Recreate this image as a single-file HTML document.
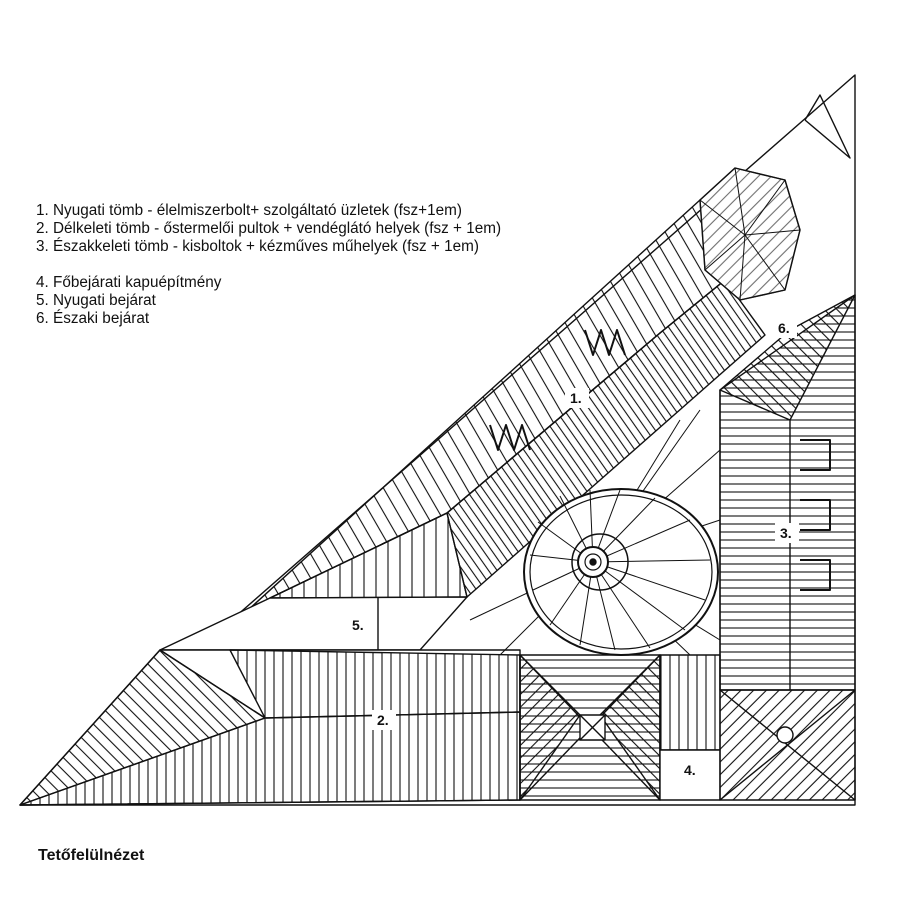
<!DOCTYPE html>
<html><head><meta charset="utf-8"><style>
html,body{margin:0;padding:0;background:#fff}
svg{display:block}
text{font-family:"Liberation Sans",sans-serif;fill:#111}
</style></head><body>
<svg width="900" height="900" viewBox="0 0 900 900" xmlns="http://www.w3.org/2000/svg">
<defs>
<pattern id="pv" width="9" height="10" patternUnits="userSpaceOnUse"><line x1="4" y1="0" x2="4" y2="10" stroke="#111" stroke-width="1.1"/></pattern>
<pattern id="pv2" width="12" height="10" patternUnits="userSpaceOnUse"><line x1="4" y1="0" x2="4" y2="10" stroke="#111" stroke-width="1.1"/></pattern>
<pattern id="ph" width="10" height="8" patternUnits="userSpaceOnUse"><line x1="0" y1="4" x2="10" y2="4" stroke="#111" stroke-width="1.1"/></pattern>
<pattern id="pd1" width="7" height="10" patternUnits="userSpaceOnUse" patternTransform="rotate(-35)"><line x1="3" y1="0" x2="3" y2="10" stroke="#111" stroke-width="1.1"/></pattern>
<pattern id="pd1b" width="12" height="10" patternUnits="userSpaceOnUse" patternTransform="rotate(-30)"><line x1="4" y1="0" x2="4" y2="10" stroke="#111" stroke-width="1.1"/></pattern>
<pattern id="pd2" width="9" height="10" patternUnits="userSpaceOnUse" patternTransform="rotate(45)"><line x1="4" y1="0" x2="4" y2="10" stroke="#111" stroke-width="1.1"/></pattern>
<pattern id="pd3" width="9" height="10" patternUnits="userSpaceOnUse" patternTransform="rotate(-45)"><line x1="4" y1="0" x2="4" y2="10" stroke="#111" stroke-width="1.1"/></pattern>
</defs>
<g fill="none" stroke="#111" stroke-width="1.4" stroke-linejoin="round">
<polyline points="20,805 855,75 855,805 20,805"/>
<path d="M805,120 L820,95 L850,158 L805,120" />
<polygon points="215,640 700,200 725,280 660,333 447,513 270,598" fill="url(#pd1b)"/>
<polygon points="447,513 660,333 725,280 765,335 467,597" fill="url(#pd1)"/>
<polygon points="270,598 447,513 467,597" fill="url(#pv2)"/>
<polyline points="270,598 447,513 660,333 725,280"/>
<polygon points="700,200 735,168 785,180 800,230 785,290 740,300 705,270" fill="#fff"/>
<polygon points="700,200 735,168 785,180 800,230 785,290 740,300 705,270" fill="url(#pd2)" opacity="0.6"/>
<g stroke-width="1">
<line x1="745" y1="235" x2="700" y2="200"/><line x1="745" y1="235" x2="735" y2="168"/><line x1="745" y1="235" x2="785" y2="180"/><line x1="745" y1="235" x2="800" y2="230"/><line x1="745" y1="235" x2="785" y2="290"/><line x1="745" y1="235" x2="740" y2="300"/><line x1="745" y1="235" x2="705" y2="270"/>
</g>
<polygon points="270,598 467,597 420,650 160,650" fill="#fff"/>
<line x1="378" y1="598" x2="378" y2="650"/>
<polygon points="160,650 520,650 520,800 20,805" fill="#fff"/>
<polygon points="160,650 265,718 20,805" fill="url(#pd3)"/>
<polygon points="265,718 520,712 520,800 20,805" fill="url(#pv)"/>
<polygon points="230,650 520,655 520,712 265,718" fill="url(#pv)"/>
<line x1="160" y1="650" x2="265" y2="718"/>
<polygon points="720,390 855,295 855,690 720,690" fill="url(#ph)"/>
<polygon points="720,390 790,330 855,295 790,420" fill="url(#pd3)"/>
<line x1="720" y1="390" x2="720" y2="690"/>
<line x1="790" y1="420" x2="790" y2="690"/>
<g stroke-width="1">
<line x1="593" y1="562" x2="700" y2="410"/><line x1="593" y1="562" x2="720" y2="450"/><line x1="593" y1="562" x2="720" y2="520"/><line x1="593" y1="562" x2="720" y2="640"/><line x1="593" y1="562" x2="470" y2="620"/><line x1="593" y1="562" x2="500" y2="655"/><line x1="593" y1="562" x2="690" y2="655"/><line x1="593" y1="562" x2="680" y2="420"/>
</g>
<ellipse cx="621" cy="572" rx="97" ry="83" stroke-width="2" fill="#fff"/>
<ellipse cx="621" cy="572" rx="91" ry="77" stroke-width="1.2"/>
<g stroke-width="1">
<line x1="593" y1="562" x2="560" y2="496"/><line x1="593" y1="562" x2="590" y2="490"/><line x1="593" y1="562" x2="620" y2="490"/><line x1="593" y1="562" x2="655" y2="498"/><line x1="593" y1="562" x2="690" y2="520"/><line x1="593" y1="562" x2="710" y2="560"/><line x1="593" y1="562" x2="705" y2="600"/><line x1="593" y1="562" x2="685" y2="630"/><line x1="593" y1="562" x2="650" y2="648"/><line x1="593" y1="562" x2="615" y2="650"/><line x1="593" y1="562" x2="580" y2="645"/><line x1="593" y1="562" x2="550" y2="625"/><line x1="593" y1="562" x2="533" y2="590"/><line x1="593" y1="562" x2="530" y2="555"/><line x1="593" y1="562" x2="538" y2="522"/>
</g>
<circle cx="600" cy="562" r="28" stroke-width="1.5" fill="none"/>
<circle cx="593" cy="562" r="15" stroke-width="2" fill="#fff"/>
<circle cx="593" cy="562" r="8" stroke-width="1.2" fill="#fff"/>
<circle cx="593" cy="562" r="3" fill="#111"/>
<rect x="520" y="655" width="140" height="145" fill="url(#ph)"/>
<polygon points="520,655 580,715 520,800" fill="url(#pd2)"/>
<polygon points="660,655 600,715 660,800" fill="url(#pd3)"/>
<line x1="520" y1="655" x2="660" y2="800"/><line x1="660" y1="655" x2="520" y2="800"/>
<rect x="580" y="715" width="25" height="25" fill="#fff"/>
<line x1="580" y1="715" x2="605" y2="740"/><line x1="605" y1="715" x2="580" y2="740"/>
<rect x="660" y="655" width="60" height="95" fill="url(#pv)"/>
<rect x="660" y="750" width="60" height="50" fill="#fff"/>
<rect x="720" y="690" width="135" height="110" fill="url(#pd2)"/>
<line x1="720" y1="690" x2="855" y2="800"/><line x1="855" y1="690" x2="720" y2="800"/>
<circle cx="785" cy="735" r="8" fill="#fff"/>
<path d="M585,330 l8,25 l8,-25 l8,25 l8,-25 l8,25" stroke-width="2"/>
<path d="M490,425 l8,25 l8,-25 l8,25 l8,-25 l8,25" stroke-width="2"/>
<path d="M800,440 h30 v30 h-30 M800,500 h30 v30 h-30 M800,560 h30 v30 h-30" stroke-width="2"/>
</g>
<g font-size="14">
<rect x="565" y="388" width="24" height="20" fill="#fff"/><text x="570" y="403" font-weight="bold">1.</text>
<rect x="372" y="710" width="24" height="20" fill="#fff"/><text x="377" y="725" font-weight="bold">2.</text>
<rect x="775" y="523" width="24" height="20" fill="#fff"/><text x="780" y="538" font-weight="bold">3.</text>
<text x="684" y="775" font-weight="bold">4.</text>
<text x="352" y="630" font-weight="bold">5.</text>
<rect x="773" y="318" width="24" height="20" fill="#fff"/><text x="778" y="333" font-weight="bold">6.</text>
</g>
<g font-size="15.3">
<text x="36" y="215">1. Nyugati tömb - élelmiszerbolt+ szolgáltató üzletek (fsz+1em)</text>
<text x="36" y="233">2. Délkeleti tömb - őstermelői pultok + vendéglátó helyek (fsz + 1em)</text>
<text x="36" y="251">3. Északkeleti tömb - kisboltok + kézműves műhelyek (fsz + 1em)</text>
<text x="36" y="287">4. Főbejárati kapuépítmény</text>
<text x="36" y="305">5. Nyugati bejárat</text>
<text x="36" y="323">6. Északi bejárat</text>
</g>
<text x="38" y="860" font-size="16" font-weight="bold">Tetőfelülnézet</text>
</svg>
</body></html>
